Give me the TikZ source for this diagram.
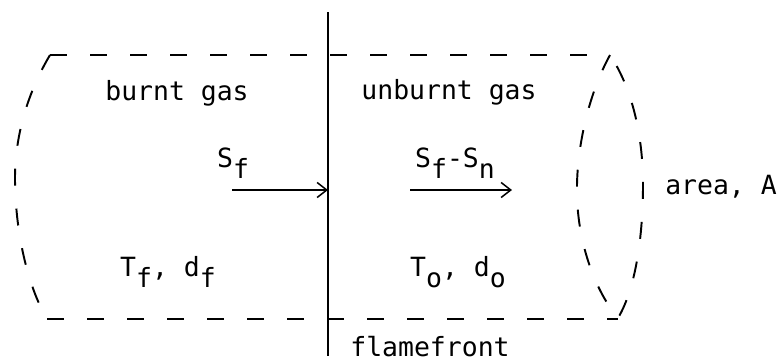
\documentclass[tikz,border=0pt]{standalone}
\usepackage{fontspec}
\setmonofont{DejaVu Sans Mono}
\usetikzlibrary{arrows.meta}
\newcommand{\lowsub}[1]{\raisebox{-0.8ex}{#1}}
\tikzset{
  lbl/.style={font=\ttfamily\fontsize{12.3}{14}\selectfont, inner sep=0pt},
  wall/.style={line width=0.9pt, dash pattern=on 7.9pt off 10.7pt},
}
\begin{document}
\begin{tikzpicture}[x=0.01634cm, y=-0.01634cm, >={Straight Barb[length=4.5pt,width=7pt]}]
  \useasboundingbox (0,0) rectangle (777,361);
  % tube of gas, dashed outline
  \draw[wall] (50,55) -- (610,55);
  \draw[wall] (47,319) -- (618,319);
  \draw[wall] (50,55) .. controls (28,92) and (15,135) .. (15,178)
    .. controls (15,230) and (27,285) .. (47,319);
  % cross section at the right end
  \draw[wall] (610,55) .. controls (588,95) and (576,150) .. (577,195)
    .. controls (578,245) and (596,292) .. (618,318)
    .. controls (636,288) and (643,235) .. (643,185)
    .. controls (643,130) and (630,85) .. (610,55);
  % flamefront
  \coordinate (fftop) at (328,12);
  \coordinate (ffbot) at (328,356);
  \coordinate (ffmid) at (328,190);
  \draw[line width=0.7pt] (fftop) -- (ffbot);
  % velocities
  \coordinate (sfstart) at (232,190);
  \coordinate (ustart) at (410,190);
  \coordinate (uend) at (512,190);
  \draw[->, line width=0.7pt] (sfstart) -- (ffmid);
  \draw[->, line width=0.7pt] (ustart) -- (uend);
  % labels
  \node[lbl] (burnt) at (177,93) {burnt gas};
  \node[lbl] (unburnt) at (449,92) {unburnt gas};
  \node[lbl] (sf) at (233,163) {S\lowsub{f}};
  \node[lbl] (sfsn) at (455,163) {S\lowsub{f}-S\lowsub{n}};
  \node[lbl] (tf) at (168,272) {T\lowsub{f}, d\lowsub{f}};
  \node[lbl] (tzero) at (458,272) {T\lowsub{o}, d\lowsub{o}};
  \node[lbl] (area) at (721,187) {area, A};
  \node[lbl] (flame) at (430,347) {flamefront};
\end{tikzpicture}
\end{document}
